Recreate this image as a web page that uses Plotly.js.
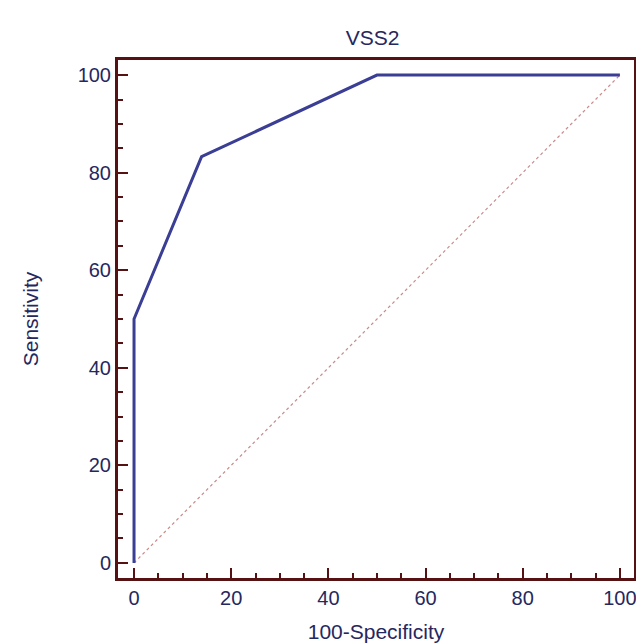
<!DOCTYPE html>
<html><head><meta charset="utf-8">
<script src="https://cdn.plot.ly/plotly-3.0.1.min.js"></script>
<style>html,body{margin:0;padding:0;background:#fff}</style>
</head><body>
<div id="chart" style="width:636px;height:643px"></div>
<script>
const rocX = [0, 0, 13.9, 50, 100];
const rocY = [0, 50, 83.3, 100, 100];
const diagX = [0, 100];
const diagY = [0, 100];
const tickVals = [0, 20, 40, 60, 80, 100];
const tickText = ['0', '20', '40', '60', '80', '100'];

const frame = '#561212';
const txt = '#25285e';
const fam = 'Liberation Sans, Arial, sans-serif';
const tickFont = {family: fam, size: 20, color: txt};
const titleFont = {family: fam, size: 21, color: txt};

const traces = [
  {x: diagX, y: diagY, mode: 'lines', line: {color: '#c98a8a', width: 1.2, dash: 'dot'}, hoverinfo: 'skip'},
  {x: rocX, y: rocY, mode: 'lines', line: {color: '#3a3e94', width: 3}}
];
const axisCommon = {
  showline: true, linecolor: frame, linewidth: 3, mirror: true,
  ticks: 'inside', ticklen: 10, tickwidth: 2, tickcolor: frame,
  tickvals: tickVals, ticktext: tickText,
  showgrid: false, zeroline: false,
  tickfont: tickFont,
  ticklabeloverflow: 'allow',
  minor: {dtick: 5, ticks: 'inside', ticklen: 5, tickwidth: 2, tickcolor: frame, showgrid: false}
};
const layout = {
  width: 636, height: 643,
  margin: {l: 118, r: 2, t: 60, b: 65},
  paper_bgcolor: '#fff', plot_bgcolor: '#fff',
  showlegend: false,
  title: {text: 'VSS2', font: {family: fam, size: 21, color: txt}, x: 0.586, xanchor: 'center', y: 0.942, yanchor: 'middle'},
  xaxis: Object.assign({}, axisCommon, {range: [-3.3, 102.9], title: {text: '100-Specificity', font: titleFont, standoff: 17}}),
  yaxis: Object.assign({}, axisCommon, {range: [-3.1, 103.1], title: {text: 'Sensitivity', font: titleFont, standoff: 34}})
};
Plotly.newPlot('chart', traces, layout, {displayModeBar: false, staticPlot: true});
</script>
</body></html>
